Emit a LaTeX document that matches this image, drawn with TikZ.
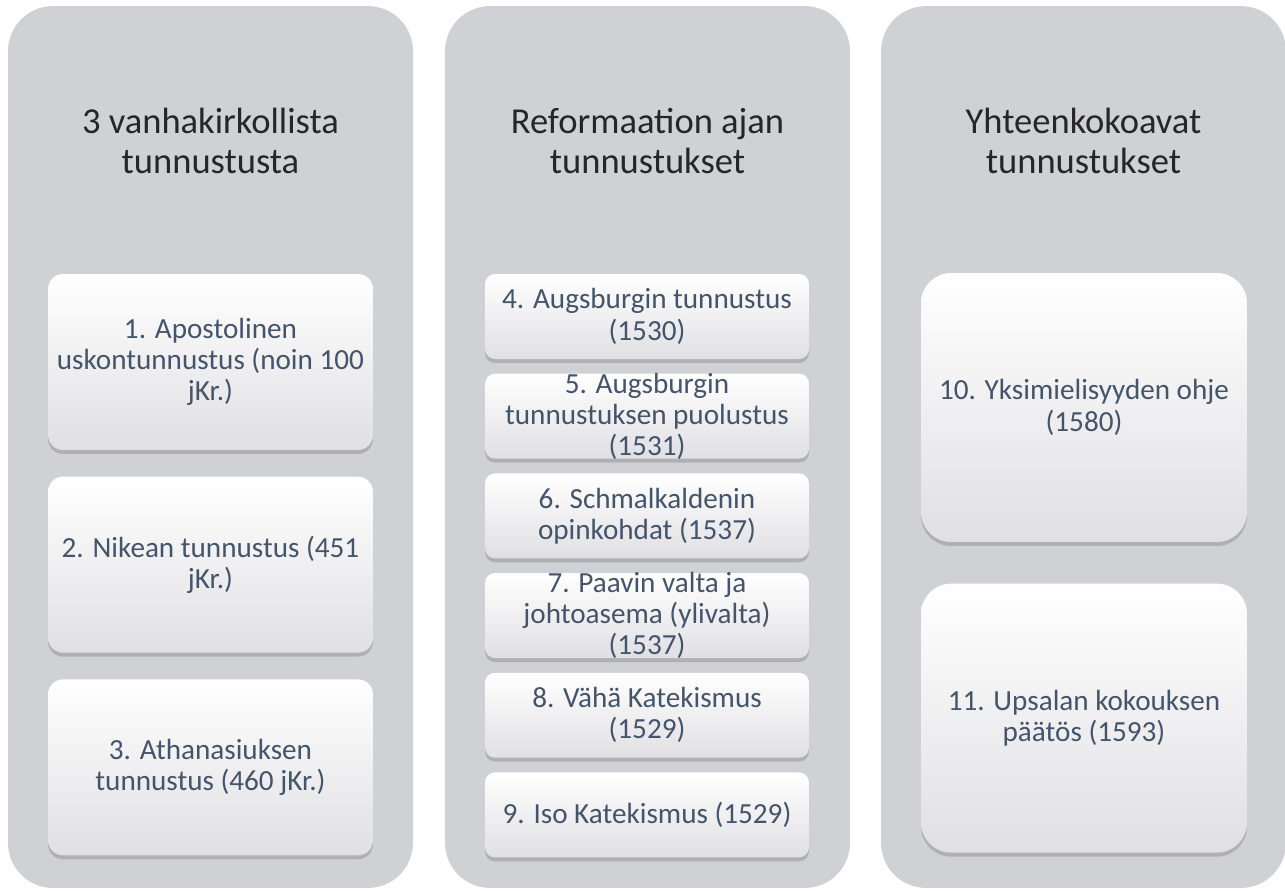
\documentclass[tikz,border=0pt]{standalone}
\usepackage{fontspec}
\setmainfont{Carlito}
\usetikzlibrary{positioning,shadows}
\definecolor{colgray}{RGB}{208,209,213}
\definecolor{cardtext}{RGB}{68,84,106}
\definecolor{cardbottom}{RGB}{224,224,227}

\begin{document}
\begin{tikzpicture}[x=0.02cm,y=-0.02cm]
       \tikzset{column/.style={rectangle, rounded corners=0.9cm, fill=colgray,
                minimum width=8.1cm, minimum height=17.64cm, inner sep=0pt}}

       \tikzset{heading/.style={align=center, text=black!85,
                font=\fontsize{20.8}{23.2}\selectfont}}

       \tikzset{card/.style={rectangle, inner sep=0pt, top color=white, middle color=white,
                bottom color=cardbottom,
                drop shadow={opacity=0.4, shadow xshift=0pt, shadow yshift=-0.08cm}}}

       \tikzset{cardlabel/.style={align=center, text=cardtext,
                font=\fontsize{16.6}{17.8}\selectfont}}

       \tikzset{cardA/.style={card, rounded corners=0.3cm, minimum width=6.5cm, minimum height=3.52cm}}
       \tikzset{cardB/.style={card, rounded corners=0.2cm, minimum width=6.48cm, minimum height=1.7cm}}
       \tikzset{cardC/.style={card, rounded corners=0.6cm, minimum width=6.52cm, minimum height=5.38cm}}

        \useasboundingbox (0,0) rectangle (1285,890);

        % columns
        \node[column] (col1) at (210.5,447) {};
        \node[column] (col2) at (647.5,447) {};
        \node[column] (col3) at (1083.5,447) {};

        \node[heading] (head1) at (210.5,141) {3 vanhakirkollista\\tunnustusta};
        \node[heading] (head2) at (647.5,141) {Reformaation ajan\\tunnustukset};
        \node[heading] (head3) at (1083.5,141) {Yhteenkokoavat\\tunnustukset};

        % first column
        \node[cardA, label={[cardlabel]center:{1. Apostolinen\\uskontunnustus (noin 100\\jKr.)}}] (c1) at (210.5,362) {};
        \node[cardA, below=0.52cm of c1, label={[cardlabel]center:{2. Nikean tunnustus (451\\jKr.)}}] (c2) {};
        \node[cardA, below=0.52cm of c2, label={[cardlabel]center:{3. Athanasiuksen\\tunnustus (460 jKr.)}}] (c3) {};

        % second column
        \node[cardB, label={[cardlabel]center:{4. Augsburgin tunnustus\\(1530)}}] (c4) at (647,316.5) {};
        \node[cardB, below=0.28cm of c4, label={[cardlabel]center:{5. Augsburgin\\tunnustuksen puolustus\\(1531)}}] (c5) {};
        \node[cardB, below=0.28cm of c5, label={[cardlabel]center:{6. Schmalkaldenin\\opinkohdat (1537)}}] (c6) {};
        \node[cardB, below=0.28cm of c6, label={[cardlabel]center:{7. Paavin valta ja\\johtoasema (ylivalta)\\(1537)}}] (c7) {};
        \node[cardB, below=0.28cm of c7, label={[cardlabel]center:{8. Vähä Katekismus\\(1529)}}] (c8) {};
        \node[cardB, below=0.28cm of c8, label={[cardlabel]center:{9. Iso Katekismus (1529)}}] (c9) {};

        % third column
        \node[cardC, label={[cardlabel]center:{10. Yksimielisyyden ohje\\(1580)}}] (c10) at (1084,407.5) {};
        \node[cardC, below=0.82cm of c10, label={[cardlabel]center:{11. Upsalan kokouksen\\päätös (1593)}}] (c11) {};

\end{tikzpicture}
\end{document}
